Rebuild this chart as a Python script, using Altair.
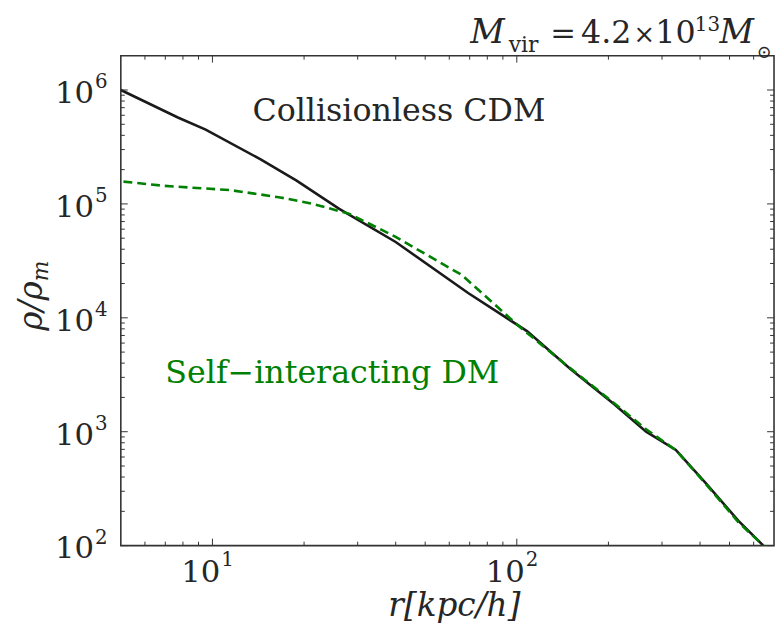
import altair as alt
import pandas as pd

# ---- data ----
r_cdm = [5.0, 7.7, 9.5, 14.4, 18.9, 26.1, 40, 69.2, 108, 150, 208, 266, 333, 417, 535, 646]
rho_cdm = [1.0e6, 5.74e5, 4.49e5, 2.46e5, 1.6e5, 9.06e4, 4.63e4, 1.65e4, 7.64e3,
           3.55e3, 1.76e3, 1.0e3, 692, 355, 165, 100]

r_sidm = [5.1, 6.97, 11.5, 16.7, 21.4, 28.2, 40, 65.9, 103, 150, 208, 266, 333, 417, 535, 646]
rho_sidm = [1.57e5, 1.44e5, 1.32e5, 1.14e5, 1.0e5, 8.18e4, 5.13e4, 2.38e4, 8.18e3,
            3.6e3, 1.8e3, 1.05e3, 690, 350, 160, 100]

x_major = [10, 100]
x_minor = [6, 7, 8, 9, 20, 30, 40, 50, 60, 70, 80, 90, 200, 300, 400, 500, 600]
y_major = [1e2, 1e3, 1e4, 1e5, 1e6]
y_minor = [2e2, 3e2, 4e2, 5e2, 6e2, 7e2, 8e2, 9e2,
           2e3, 3e3, 4e3, 5e3, 6e3, 7e3, 8e3, 9e3,
           2e4, 3e4, 4e4, 5e4, 6e4, 7e4, 8e4, 9e4,
           2e5, 3e5, 4e5, 5e5, 6e5, 7e5, 8e5, 9e5]
x_label_base = ["10", "10"]
x_label_exp = ["1", "2"]
y_label_base = ["10", "10", "10", "10", "10"]
y_label_exp = ["2", "3", "4", "5", "6"]

# ---- style ----
W, H = 660, 495
SERIF = "DejaVu Serif"
TXT = "#262626"
AX = "#333333"
GREEN = "#008000"

xscale = alt.Scale(type="log", domain=[5, 700], nice=False)
yscale = alt.Scale(type="log", domain=[100, 2e6], nice=False)


def X(f):
    return alt.X(f, type="quantitative", scale=xscale, axis=None)


def Y(f):
    return alt.Y(f, type="quantitative", scale=yscale, axis=None)


cdm = alt.Chart(pd.DataFrame({"r": r_cdm, "rho": rho_cdm})).mark_line(
    color="#1a1a1a", strokeWidth=2.6, clip=True
).encode(x=X("r"), y=Y("rho"))

sidm = alt.Chart(pd.DataFrame({"r": r_sidm, "rho": rho_sidm})).mark_line(
    color=GREEN, strokeWidth=2.6, strokeDash=[9, 5], clip=True
).encode(x=X("r"), y=Y("rho"))


def xticks(vals, L):
    d = pd.DataFrame({"v": vals})
    bot = alt.Chart(d).mark_rule(color=AX, strokeWidth=1).encode(
        x=X("v"), y=alt.value(H), y2=alt.value(H - L))
    top = alt.Chart(d).mark_rule(color=AX, strokeWidth=1).encode(
        x=X("v"), y=alt.value(0), y2=alt.value(L))
    return [bot, top]


def yticks(vals, L):
    d = pd.DataFrame({"v": vals})
    lef = alt.Chart(d).mark_rule(color=AX, strokeWidth=1).encode(
        y=Y("v"), x=alt.value(0), x2=alt.value(L))
    rig = alt.Chart(d).mark_rule(color=AX, strokeWidth=1).encode(
        y=Y("v"), x=alt.value(W), x2=alt.value(W - L))
    return [lef, rig]


ticks = xticks(x_major, 7) + xticks(x_minor, 4) + yticks(y_major, 7) + yticks(y_minor, 4)

xl = pd.DataFrame({"v": x_major, "base": x_label_base, "exp": x_label_exp})
xlab_base = alt.Chart(xl).mark_text(align="right", baseline="alphabetic", dx=8,
                                    fontSize=31, font=SERIF, color=TXT).encode(
    x=X("v"), y=alt.value(H + 37), text="base:N")
xlab_exp = alt.Chart(xl).mark_text(align="left", baseline="alphabetic", dx=9,
                                   fontSize=20, font=SERIF, color=TXT).encode(
    x=X("v"), y=alt.value(H + 21), text="exp:N")

yl = pd.DataFrame({"v": y_major, "base": y_label_base, "exp": y_label_exp})
ylab_base = alt.Chart(yl).mark_text(align="right", baseline="alphabetic", dy=13,
                                    fontSize=31, font=SERIF, color=TXT).encode(
    y=Y("v"), x=alt.value(-27), text="base:N")
ylab_exp = alt.Chart(yl).mark_text(align="left", baseline="alphabetic", dy=-1.6,
                                   fontSize=20, font=SERIF, color=TXT).encode(
    y=Y("v"), x=alt.value(-26), text="exp:N")


def label(txt, x, y, size, color=TXT, style="normal", align="left", angle=0, font=SERIF,
          baseline="alphabetic"):
    return alt.Chart(pd.DataFrame({"t": [txt]})).mark_text(
        align=align, baseline=baseline, fontSize=size, font=font, color=color,
        fontStyle=style, angle=angle
    ).encode(x=alt.value(x), y=alt.value(y), text="t:N")


texts = [
    label("Collisionless CDM", 133, 66.3, 32),
    label("Self\u2212interacting DM", 45, 330.3, 32, color=GREEN),
    # x title
    label("r[kpc/h]", 337, 566, 33, style="italic", align="center"),
    # y title
    label("\u03c1/\u03c1", -80, 228, 33, style="italic", align="right", angle=270),
    label("m", -74, 228, 22, style="italic", align="left", angle=270),
    # header
    label("M", 353, -13, 34, style="italic"),
    label("vir", 392, -3.7, 22),
    label("=", 434, -13, 31),
    label("4.2", 465, -13, 32),
    label("\u00d7", 518, -13, 26),
    label("10", 540, -13, 32),
    label("13", 580, -24.7, 20),
    label("M", 605, -13, 34, style="italic"),
    label("\u2299", 650, -3, 18, align="center", baseline="middle"),
]

chart = alt.layer(cdm, sidm, *ticks, xlab_base, xlab_exp, ylab_base, ylab_exp, *texts).properties(
    width=W, height=H,
    autosize=alt.AutoSizeParams(type="none"),
    padding={"left": 114, "top": 45, "right": 2, "bottom": 78},
).configure_view(stroke=AX, strokeWidth=1.6)

chart.save("out.html", embed_options={"renderer": "svg", "actions": False})
